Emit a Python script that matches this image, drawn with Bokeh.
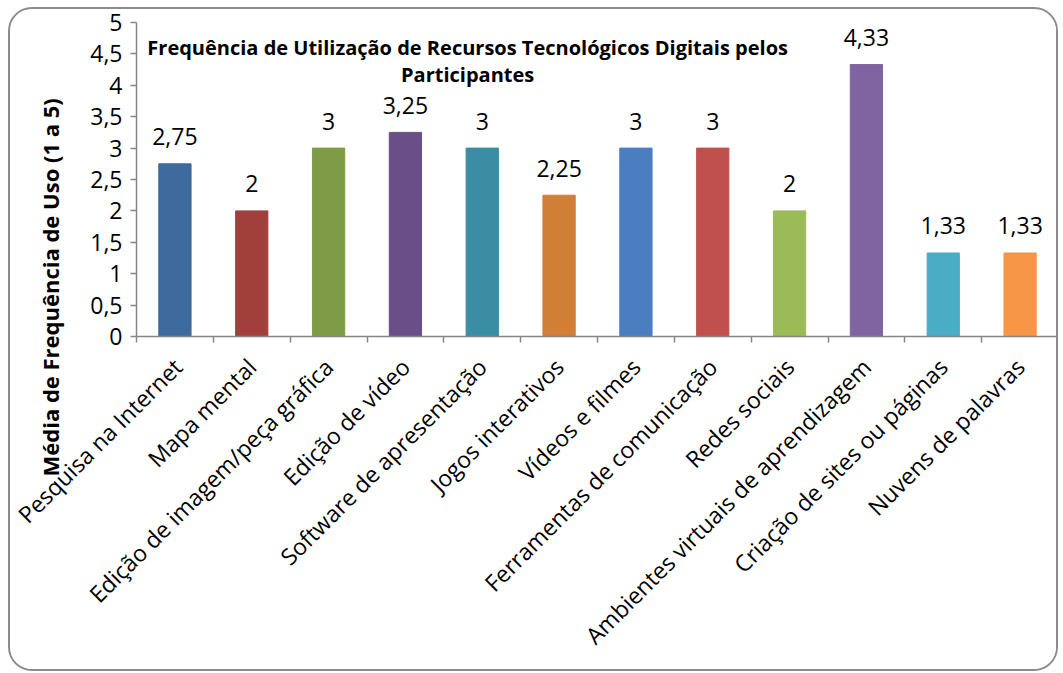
from bokeh.plotting import figure
from bokeh.models import (Range1d, FixedTicker, CustomJSTickFormatter, Label, Title, ColumnDataSource)
from bokeh.core.properties import value
from bokeh.embed import file_html
from bokeh.resources import INLINE
import math

categories = ["Pesquisa na Internet", "Mapa mental", "Edição de imagem/peça gráfica",
              "Edição de vídeo", "Software de apresentação", "Jogos interativos",
              "Vídeos e filmes", "Ferramentas de comunicação", "Redes sociais",
              "Ambientes virtuais de aprendizagem", "Criação de sites ou páginas",
              "Nuvens de palavras"]
values = [2.75, 2, 3, 3.25, 3, 2.25, 3, 3, 2, 4.33, 1.33, 1.33]
colors = ["#3F6A9E", "#A03F3C", "#7E9B45", "#6A4E87", "#3A8DA3", "#D17E37",
          "#4A7EC0", "#C0504D", "#9BBB59", "#8064A2", "#4BACC6", "#F79646"]
y_ticks = [0, 0.5, 1, 1.5, 2, 2.5, 3, 3.5, 4, 4.5, 5]
title_text = "Frequência de Utilização de Recursos Tecnológicos Digitais pelos\nParticipantes"
y_label = "Média de Frequência de Uso (1 a 5)"

FONT = "Open Sans"
GREY = "#868686"

src = ColumnDataSource(dict(
    x=[i + 0.5 for i in range(len(categories))],
    top=values,
    color=colors,
    lab=[("%g" % v).replace(".", ",") for v in values],
))

p = figure(width=1050, height=664, output_backend="svg", toolbar_location=None,
           x_range=Range1d(0, len(categories)), y_range=Range1d(0, 5),
           min_border_left=126, min_border_right=2, min_border_top=13, min_border_bottom=337)
p.styles = {"border": "2px solid #8c8c8c", "border-radius": "24px", "overflow": "hidden",
            "margin-left": "8px", "margin-top": "7px"}
p.outline_line_color = None
p.xgrid.visible = False
p.ygrid.visible = False
p.background_fill_color = "white"
p.border_fill_color = "white"

p.vbar(x="x", top="top", width=0.42, color="color", source=src)
p.text(x="x", y="top", text="lab", source=src, text_align="center",
       text_baseline="alphabetic", y_offset=-27, text_font=value(FONT),
       text_font_size="23px", text_color="black")

# axes
xa = p.xaxis[0]
xa.ticker = FixedTicker(ticks=[i + 0.5 for i in range(len(categories))],
                        minor_ticks=list(range(len(categories) + 1)))
xa.formatter = CustomJSTickFormatter(args=dict(names=categories),
                                     code="return names[Math.floor(tick)]")
xa.major_label_orientation = math.pi / 4
xa.major_tick_line_color = None
xa.minor_tick_line_color = GREY
xa.minor_tick_out = 6
xa.minor_tick_in = 0
xa.minor_tick_line_width = 1.5
xa.axis_line_color = GREY
xa.axis_line_width = 1.5
xa.major_label_text_font = FONT
xa.major_label_text_font_size = "23px"
xa.major_label_text_color = "black"
xa.major_label_standoff = 20

ya = p.yaxis[0]
ya.ticker = FixedTicker(ticks=y_ticks)
ya.formatter = CustomJSTickFormatter(code="return tick.toString().replace('.', ',')")
ya.major_tick_line_color = GREY
ya.major_tick_out = 6
ya.major_tick_in = 0
ya.major_tick_line_width = 1.5
ya.minor_tick_line_color = None
ya.axis_line_color = GREY
ya.axis_line_width = 1.5
ya.major_label_text_font = FONT
ya.major_label_text_font_size = "23px"
ya.major_label_text_color = "black"
ya.major_label_standoff = 8

p.add_layout(Label(x=4.31, y=4.81, text=title_text, text_align="center",
                   text_baseline="top", text_font=FONT, text_font_size="20px",
                   text_font_style="bold", text_color="black", text_line_height=1.0))

ylab = Title(text=y_label, align="left", offset=-140, text_font=FONT,
             text_font_size="22px", text_font_style="bold", text_color="black",
             standoff=42, vertical_align="top")
p.add_layout(ylab, "left")

open("out.html", "w").write(file_html(p, INLINE))
